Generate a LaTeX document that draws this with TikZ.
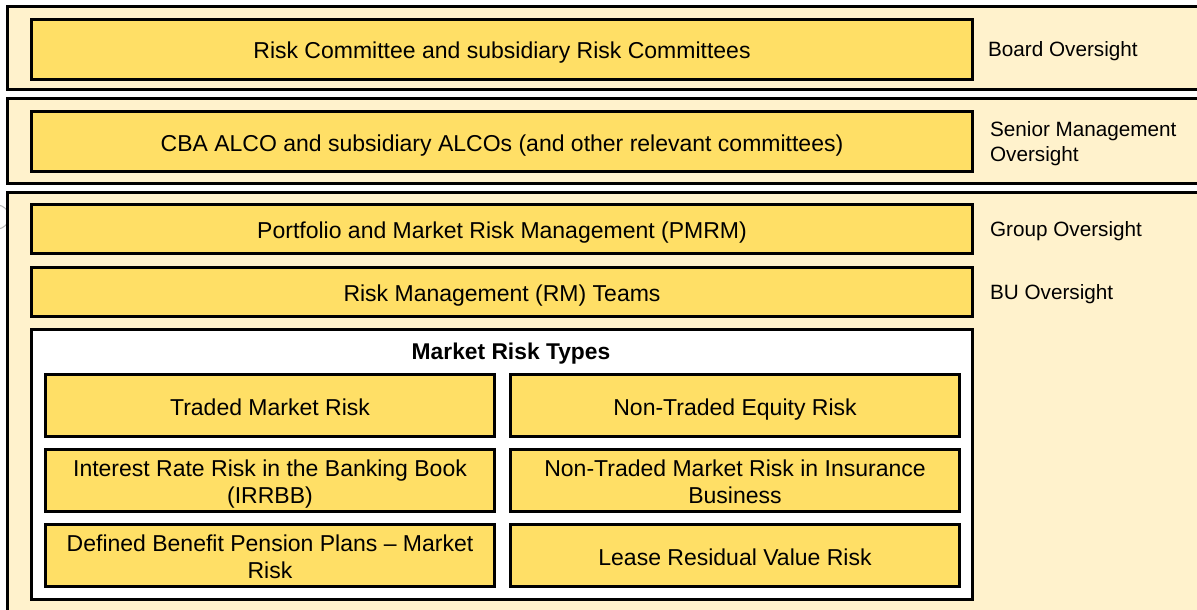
\documentclass[tikz,border=0pt]{standalone}
\usepackage{fontspec}
\setmainfont{Liberation Sans}
\usepackage{tikz}
\usetikzlibrary{positioning}

\begin{document}
\begin{tikzpicture}[
    x=1pt, y=-1pt,
    band/.style={draw, line width=2.8pt, fill=bandC},
    tier/.style={draw, rectangle, line width=2.8pt, fill=tierC, minimum width=941pt,
                 text centered, inner sep=0pt, text height=19pt, text depth=0pt,
                 font=\fontsize{23}{27}\selectfont},
    riskbox/.style={draw, rectangle, line width=2.6pt, fill=tierC, minimum width=449pt,
                 minimum height=62pt, align=center, inner sep=0pt,
                 text height=19pt, text depth=0pt,
                 font=\fontsize{23}{27}\selectfont},
    twoline/.style={text height=46pt},
    side/.style={inner sep=0pt, align=left, text height=15pt, text depth=0pt,
                 font=\fontsize{20.7}{25}\selectfont},
]

% Color definitions
\definecolor{bandC}{RGB}{255,242,204}
\definecolor{tierC}{RGB}{255,223,102}

\useasboundingbox (0,0) rectangle (1197,610);
\clip (0,0) rectangle (1197,610);

% stray mark at the left edge
\draw[gray!55, line width=1pt] (-3,217) circle (12);

% Oversight bands (run off the right edge)
\draw[band] (7.5,6.5) rectangle (1210,89.5);
\draw[band] (7.5,98.5) rectangle (1210,183.5);
\draw[band] (7.5,192.5) rectangle (1210,625);

% Committees and teams
\node[tier, minimum height=60pt] (riskcom) at (502,49.5)
  {Risk Committee and subsidiary Risk Committees};
\node[tier, minimum height=60pt] (alco) at (502,141.5)
  {CBA ALCO and subsidiary ALCOs (and other relevant committees)};
\node[tier, minimum height=49pt] (pmrm) at (502,229)
  {Portfolio and Market Risk Management (PMRM)};
\node[tier, minimum height=49pt] (rmteams) at (502,292)
  {Risk Management (RM) Teams};

% Market risk types
\node[tier, fill=white, minimum height=270pt] (types) at (502,464.5) {};
\node[font=\fontsize{22.8}{27}\selectfont\bfseries, inner sep=0pt] (typestitle) at (511,354)
  {Market Risk Types};

\node[riskbox] (traded) at (270,405.5) {Traded Market Risk};
\node[riskbox] (equity) at (735,405.5) {Non-Traded Equity Risk};
\node[riskbox, twoline] (irrbb) at (270,480.5) {Interest Rate Risk in the Banking Book\\(IRRBB)};
\node[riskbox, twoline] (insur) at (735,480.5) {Non-Traded Market Risk in Insurance\\Business};
\node[riskbox, twoline] (pension) at (270,555.5) {Defined Benefit Pension Plans -- Market\\Risk};
\node[riskbox] (lease) at (735,555.5) {Lease Residual Value Risk};

% Oversight labels (right side)
\node[side, right=14pt] at (riskcom.east) {Board Oversight};
\node[side, right=16pt, text height=40pt] at (alco.east) {Senior Management\\Oversight};
\node[side, right=16pt] at (pmrm.east) {Group Oversight};
\node[side, right=16pt] at (rmteams.east) {BU Oversight};

\end{tikzpicture}
\end{document}
